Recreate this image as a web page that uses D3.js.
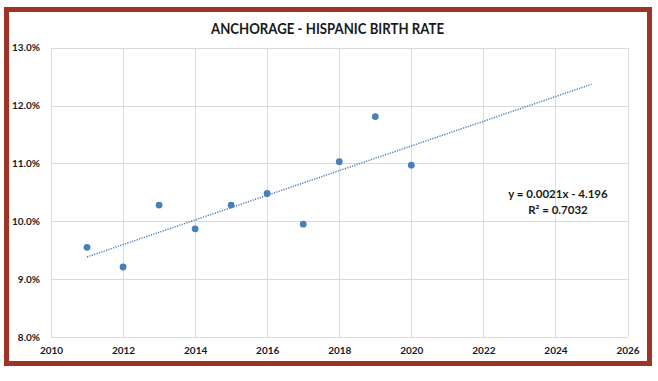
<!DOCTYPE html>
<html><head><meta charset="utf-8">
<script src="https://cdn.jsdelivr.net/npm/d3@7"></script>
<style>html,body{margin:0;padding:0;background:#fff;}svg{display:block;}</style>
</head><body>
<script>
const years = [2011,2012,2013,2014,2015,2016,2017,2018,2019,2020];
const birthRate = [9.55,9.21,10.28,9.87,10.28,10.48,9.95,11.03,11.81,10.97];
const xTicks = [2010,2012,2014,2016,2018,2020,2022,2024,2026];
const yTicks = [8,9,10,11,12,13];
const title = "ANCHORAGE - HISPANIC BIRTH RATE";
const eqLines = ["y = 0.0021x - 4.196","R\u00B2 = 0.7032"];
const trendEnd = 2025;

const W=658,H=381;
const svg=d3.select("body").append("svg").attr("width",W).attr("height",H);
const font="Lato, 'Open Sans', sans-serif";

// frame
svg.append("rect").attr("x",6.5).attr("y",9.5).attr("width",643).attr("height",354)
  .attr("fill","#fff").attr("stroke","#9c3325").attr("stroke-width",5);

const m={l:51,r:627.5,t:47.7,b:337};
const x=d3.scaleLinear().domain([2010,2026]).range([m.l,m.r]);
const y=d3.scaleLinear().domain([8,13]).range([m.b,m.t]);

const g=svg.append("g");
// grid
g.selectAll(".vg").data(xTicks).join("line")
  .attr("x1",d=>Math.round(x(d))+0.5).attr("x2",d=>Math.round(x(d))+0.5)
  .attr("y1",y(13)).attr("y2",y(8)).attr("stroke","#d9d9d9").attr("stroke-width",1);
g.selectAll(".hg").data(yTicks).join("line")
  .attr("y1",d=>Math.round(y(d))+0.5).attr("y2",d=>Math.round(y(d))+0.5)
  .attr("x1",x(2010)).attr("x2",x(2026)).attr("stroke","#d9d9d9").attr("stroke-width",1);

// axes labels via d3 axes
const xAxis=svg.append("g").attr("transform",`translate(0,${m.b})`)
  .call(d3.axisBottom(x).tickValues(xTicks).tickFormat(d3.format("d")).tickSize(0).tickPadding(10));
const yAxis=svg.append("g").attr("transform",`translate(${m.l},0)`)
  .call(d3.axisLeft(y).tickValues(yTicks).tickFormat(d=>d.toFixed(1)+"%").tickSize(0).tickPadding(11));
[xAxis,yAxis].forEach(a=>{a.select(".domain").remove();
  a.selectAll("text").attr("font-family",font).attr("font-weight","bold").attr("font-size","10px").attr("fill","#1a1a1a");});

// trendline (least squares)
const mx=d3.mean(years), my=d3.mean(birthRate);
const slope=d3.sum(years.map((v,i)=>(v-mx)*(birthRate[i]-my)))/d3.sum(years.map(v=>(v-mx)**2));
const icpt=my-slope*mx;
const tl=[years[0],trendEnd];
svg.append("line").attr("x1",x(tl[0])).attr("y1",y(icpt+slope*tl[0]))
  .attr("x2",x(tl[1])).attr("y2",y(icpt+slope*tl[1]))
  .attr("stroke","#4a7ebb").attr("stroke-width",1.5).attr("stroke-dasharray","1.2 1.3");

// points
svg.selectAll(".pt").data(years).join("circle")
  .attr("cx",d=>x(d)).attr("cy",(d,i)=>y(birthRate[i])).attr("r",3.4).attr("fill","#4a7ebb");

// title
svg.append("text").attr("x",327.5).attr("y",34).attr("text-anchor","middle")
  .attr("font-family",font).attr("font-weight","bold").attr("font-size","14.5px").attr("fill","#1a1a1a")
  .attr("textLength",233).attr("lengthAdjust","spacingAndGlyphs").text(title);

// equation
svg.selectAll(".eq").data(eqLines).join("text")
  .attr("x",558).attr("y",(d,i)=>198+i*16).attr("text-anchor","middle")
  .attr("font-family",font).attr("font-weight","bold").attr("font-size","11.5px").attr("fill","#1a1a1a").text(d=>d);
</script>
</body></html>
